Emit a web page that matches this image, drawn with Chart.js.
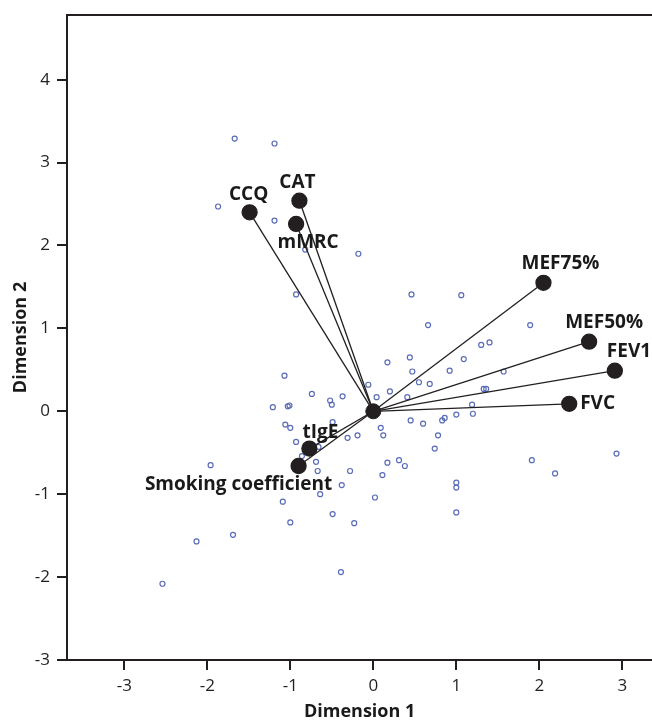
<!DOCTYPE html>
<html>
<head>
<meta charset="utf-8">
<script src="https://cdn.jsdelivr.net/npm/chart.js@4/dist/chart.umd.min.js"></script>
<style>
  html, body { margin: 0; padding: 0; background: #fff; overflow: hidden; width: 652px; height: 720px; }
  canvas { display: block; }
</style>
</head>
<body>
<!-- a few px wider than the window: chart.js keeps ~9px right padding, the plot runs off the edge as in the figure -->
<canvas id="biplot" width="661" height="720"></canvas>
<script>
// variables (vector end points)
const varNames = ["CCQ", "CAT", "mMRC", "MEF75%", "MEF50%", "FEV1", "FVC", "tIgE", "Smoking coefficient"];
const varDim1 = [-1.49, -0.89, -0.93, 2.05, 2.60, 2.91, 2.36, -0.77, -0.90];
const varDim2 = [2.40, 2.54, 2.26, 1.55, 0.84, 0.49, 0.09, -0.45, -0.66];

// observations
const obsDim1 = [-1.67, -1.19, -1.87, -1.19, -0.18, -0.82, -0.93, -1.07, -0.74, -0.52,
  -0.50, -0.37, -1.21, -1.03, -1.01, -1.06, -1.00, -0.49, -0.93, -0.31,
  -0.19, -0.66, 0.46, 1.06, 0.66, 1.89, 1.30, 1.40, 0.17, 0.44,
  1.09, 0.47, 0.92, 1.57, 0.55, 0.68, -0.06, 0.20, 0.04, 0.41,
  1.33, 1.36, 1.19, 1.20, 1.00, 0.86, 0.83, 0.45, 0.60, 0.09,
  0.12, 0.78, 0.74, -0.28, -0.23, 0.17, 0.31, 0.38, 0.11, 0.02,
  1.00, 1.00, 1.00, 1.91, 2.19, 2.93, -0.86, -0.69, -0.67, -0.38,
  -0.64, -1.09, -1.00, -0.49, -1.96, -2.13, -1.69, -2.54, -0.39];
const obsDim2 = [3.29, 3.23, 2.47, 2.30, 1.90, 1.95, 1.41, 0.43, 0.21, 0.13,
  0.08, 0.18, 0.05, 0.06, 0.07, -0.16, -0.20, -0.13, -0.37, -0.32,
  -0.29, -0.43, 1.41, 1.40, 1.04, 1.04, 0.80, 0.83, 0.59, 0.65,
  0.63, 0.48, 0.49, 0.48, 0.35, 0.33, 0.32, 0.24, 0.17, 0.17,
  0.27, 0.27, 0.08, -0.03, -0.04, -0.08, -0.11, -0.11, -0.15, -0.20,
  -0.29, -0.29, -0.45, -0.72, -1.35, -0.62, -0.59, -0.66, -0.77, -1.04,
  -0.86, -0.92, -1.22, -0.59, -0.75, -0.51, -0.54, -0.61, -0.72, -0.89,
  -1.00, -1.09, -1.34, -1.24, -0.65, -1.57, -1.49, -2.08, -1.94];

const xTicks = [-3, -2, -1, 0, 1, 2, 3];
const yTicks = [-3, -2, -1, 0, 1, 2, 3, 4];

const ink = "#231f20";
const fontFam = "'Open Sans', 'DejaVu Sans', sans-serif";

// label placement relative to vector end (pixels)
const labelOffsets = {
  "CCQ": [-1, -18, "center"],
  "CAT": [-2, -18, "center"],
  "mMRC": [12, 19, "center"],
  "MEF75%": [17, -19, "center"],
  "MEF50%": [15, -19, "center"],
  "FEV1": [-8, -19, "left"],
  "FVC": [11, 0, "left"],
  "tIgE": [11, -16, "center"],
  "Smoking coefficient": [-60, 19, "center"]
};

const datasets = [];
varNames.forEach((name, i) => {
  datasets.push({
    label: name,
    data: [{ x: 0, y: 0 }, { x: varDim1[i], y: varDim2[i] }],
    showLine: true,
    borderColor: ink,
    borderWidth: 1.3,
    backgroundColor: ink,
    pointRadius: [0, 7.5],
    pointHoverRadius: [0, 7.5],
    order: 1
  });
});
datasets.push({
  label: "origin",
  data: [{ x: 0, y: 0 }],
  backgroundColor: ink,
  borderColor: ink,
  pointRadius: 7.5,
  order: 0
});
datasets.push({
  label: "observations",
  data: obsDim1.map((x, i) => ({ x, y: obsDim2[i] })),
  backgroundColor: "rgba(0,0,0,0)",
  borderColor: "#5a6cb8",
  borderWidth: 1.2,
  pointRadius: 2.5,
  order: 2
});

const frameAndLabels = {
  id: "frameAndLabels",
  afterDatasetsDraw(chart) {
    const { ctx, chartArea, scales } = chart;
    ctx.save();
    ctx.strokeStyle = ink;
    ctx.lineWidth = 2;
    ctx.beginPath();
    ctx.moveTo(chartArea.left - 1, chartArea.top);
    ctx.lineTo(chart.width, chartArea.top);
    ctx.stroke();

    ctx.fillStyle = "#1a1a1a";
    ctx.font = "bold 19px " + fontFam;
    ctx.textBaseline = "middle";
    varNames.forEach((name, i) => {
      const px = scales.x.getPixelForValue(varDim1[i]);
      const py = scales.y.getPixelForValue(varDim2[i]);
      const off = labelOffsets[name];
      ctx.textAlign = off[2];
      ctx.fillText(name, px + off[0], py + off[1]);
    });
    ctx.restore();
  }
};

new Chart(document.getElementById("biplot"), {
  type: "scatter",
  data: { datasets },
  options: {
    responsive: false,
    animation: false,
    devicePixelRatio: 1,
    layout: { padding: { top: 15, right: 0, left: 0, bottom: 0 } },
    plugins: {
      legend: { display: false },
      tooltip: { enabled: false }
    },
    scales: {
      x: {
        type: "linear",
        min: -3.69,
        max: 3.36,
        afterFit(s) { s.height = 60; s.paddingLeft = 0; s.paddingRight = 0; },
        afterBuildTicks(s) { s.ticks = xTicks.map(v => ({ value: v })); },
        grid: { drawOnChartArea: false, drawTicks: true, tickLength: 10, color: ink, lineWidth: 2 },
        border: { display: true, color: ink, width: 2 },
        ticks: { color: ink, font: { family: fontFam, size: 17 }, padding: 6 },
        title: { display: true, text: "Dimension 1", color: "#1a1a1a", font: { family: fontFam, size: 18, weight: "bold" }, padding: { top: 0, bottom: -3 } }
      },
      y: {
        type: "linear",
        min: -3,
        max: 4.78,
        afterFit(s) { s.width = 67; s.paddingTop = 0; s.paddingBottom = 0; },
        afterBuildTicks(s) { s.ticks = yTicks.map(v => ({ value: v })); },
        grid: { drawOnChartArea: false, drawTicks: true, tickLength: 10, color: ink, lineWidth: 2 },
        border: { display: true, color: ink, width: 2 },
        ticks: { color: ink, font: { family: fontFam, size: 17 }, padding: 7 },
        title: { display: true, text: "Dimension 2", color: "#1a1a1a", font: { family: fontFam, size: 18, weight: "bold" }, padding: { top: 10, bottom: 0 } }
      }
    }
  },
  plugins: [frameAndLabels]
});
</script>
</body>
</html>
